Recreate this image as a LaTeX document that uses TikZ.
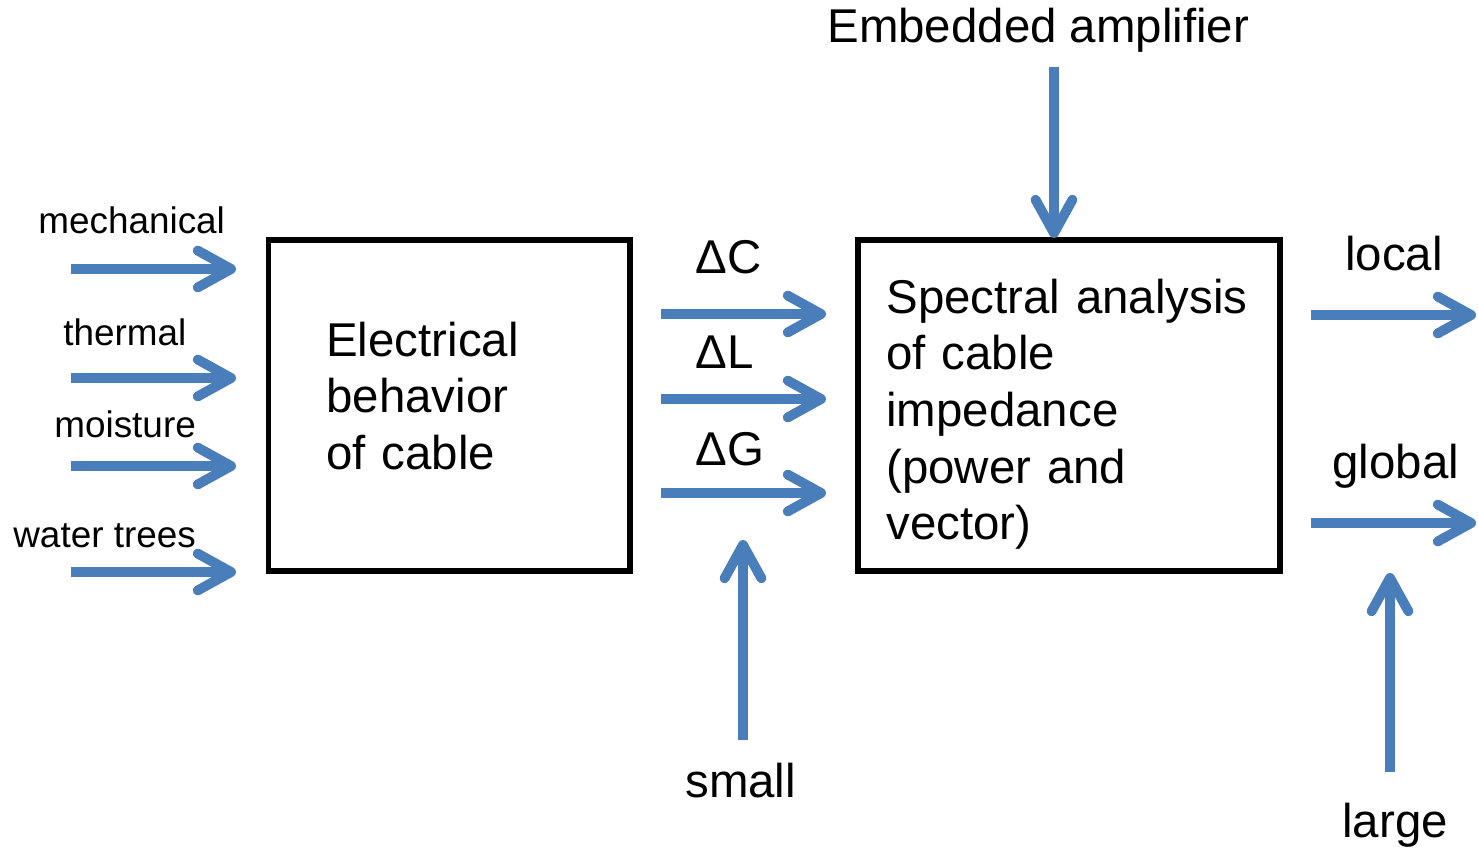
\documentclass[tikz,border=0pt]{standalone}
\usepackage{fontspec}
\setmainfont{Liberation Sans}
\usetikzlibrary{arrows.meta}
\definecolor{flowblue}{RGB}{74,126,187}
\tikzset{
  flow/.style={draw=flowblue,line width=5.6pt,-{Straight Barb[length=19pt,width=21pt,round]}},
  box/.style={draw,line width=3.2pt,minimum width=#1,minimum height=6.62cm,inner sep=0pt},
  lbl/.style={inner sep=0pt,anchor=base west,font=\fontsize{27pt}{32.3pt}\selectfont},
  cause/.style={inner sep=0pt,anchor=base west,font=\fontsize{21pt}{25pt}\selectfont},
  body/.style={lbl,text width=#1,align=left}
}
\begin{document}
\begin{tikzpicture}[x=0.02cm,y=-0.02cm]
\useasboundingbox (0,0) rectangle (1478,848);
\node [box=7.23cm] (elec) at (449.25,405.5) {};
\node [box=8.44cm] (spec) at (1069,405.5) {};
\node [body=4.5cm] (electxt) at (326,356) {Electrical\\behavior\\of cable};
\node [body=7.5cm] (spectxt) at (886,313) {Spectral analysis\\of cable\\impedance\\(power and\\vector)};

\node [cause] (mech) at (38,234) {mechanical};
\node [cause] (therm) at (63,345) {thermal};
\node [cause] (moist) at (54,437) {moisture};
\node [cause] (water) at (13,547) {water trees};
\coordinate (mech0) at (71,269);   \coordinate (mech1) at (236,269);
\coordinate (therm0) at (71,378);  \coordinate (therm1) at (236,378);
\coordinate (moist0) at (71,466);  \coordinate (moist1) at (236,466);
\coordinate (water0) at (71,572);  \coordinate (water1) at (236,572);
\draw [flow] (mech0) -- (mech1);
\draw [flow] (therm0) -- (therm1);
\draw [flow] (moist0) -- (moist1);
\draw [flow] (water0) -- (water1);

\node [lbl] (dc) at (695,273) {ΔC};
\node [lbl] (dl) at (695,368) {ΔL};
\node [lbl] (dg) at (695,465) {ΔG};
\coordinate (dc0) at (661,314);  \coordinate (dc1) at (826,314);
\coordinate (dl0) at (661,399);  \coordinate (dl1) at (826,399);
\coordinate (dg0) at (661,493);  \coordinate (dg1) at (826,493);
\draw [flow] (dc0) -- (dc1);
\draw [flow] (dl0) -- (dl1);
\draw [flow] (dg0) -- (dg1);

\node [lbl] (small) at (685,797) {small};
\coordinate (small0) at (743,740);  \coordinate (small1) at (743,540);
\draw [flow] (small0) -- (small1);

\node [lbl] (amp) at (827,43) {Embedded amplifier};
\coordinate (amp0) at (1054,67);  \coordinate (amp1) at (1054,238);
\draw [flow] (amp0) -- (amp1);

\node [lbl] (local) at (1345,270) {local};
\node [lbl] (global) at (1332,478) {global};
\coordinate (local0) at (1311,315);   \coordinate (local1) at (1476,315);
\coordinate (global0) at (1311,523);  \coordinate (global1) at (1476,523);
\draw [flow] (local0) -- (local1);
\draw [flow] (global0) -- (global1);

\node [lbl] (large) at (1342,837) {large};
\coordinate (large0) at (1390,772);  \coordinate (large1) at (1390,573);
\draw [flow] (large0) -- (large1);
\end{tikzpicture}
\end{document}
